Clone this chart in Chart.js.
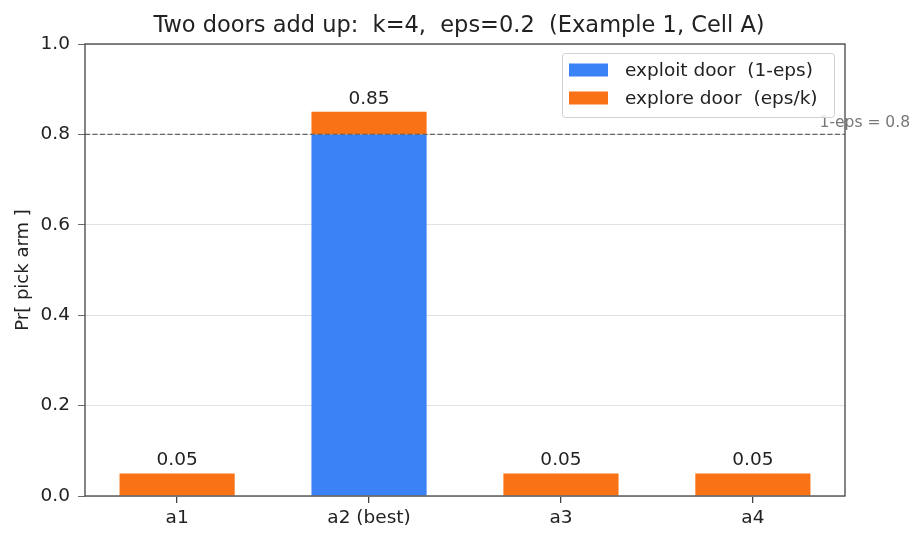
<!DOCTYPE html>
<html>
<head>
<meta charset="utf-8">
<script src="https://cdn.jsdelivr.net/npm/chart.js@4"></script>
<style>
  html, body { margin: 0; padding: 0; background: #fff; }
  #wrap { width: 923px; height: 543px; }
</style>
</head>
<body>
<div id="wrap"><canvas id="chart" width="923" height="543"></canvas></div>
<script>
const arms = ["a1", "a2 (best)", "a3", "a4"];
const exploitDoor = [0, 0.8, 0, 0];
const exploreDoor = [0.05, 0.05, 0.05, 0.05];
const yTicks = [0, 0.2, 0.4, 0.6, 0.8, 1.0];
const threshold = 0.8;

const FONT = "'DejaVu Sans', sans-serif";
const BLUE = "#3b82f6";
const ORANGE = "#f97316";
const TEXT = "#222";

// bars sit on a numeric x axis so the side margins can match
const toPoints = vals => vals.map((v, i) => ({ x: i, y: v }));

// title, y label, frame, dashed line, value labels and the legend box
const extras = {
    id: "extras",
    afterDatasetsDraw(chart) {
        const ctx = chart.ctx;
        const area = chart.chartArea;
        const x = chart.scales.x;
        const y = chart.scales.y;

        ctx.save();
        // title
        ctx.fillStyle = TEXT;
        ctx.font = "22.5px " + FONT;
        ctx.textAlign = "center";
        ctx.textBaseline = "alphabetic";
        ctx.fillText("Two doors add up:  k=4,  eps=0.2  (Example 1, Cell A)", 459, 32);

        // y axis title
        ctx.save();
        ctx.translate(28, (area.top + area.bottom) / 2);
        ctx.rotate(-Math.PI / 2);
        ctx.font = "18px " + FONT;
        ctx.fillText("Pr[ pick arm ]", 0, 0);
        ctx.restore();

        // dashed 1-eps line
        const yl = y.getPixelForValue(threshold);
        ctx.strokeStyle = "#666";
        ctx.lineWidth = 1.4;
        ctx.setLineDash([5, 2.5]);
        ctx.beginPath();
        ctx.moveTo(area.left, yl);
        ctx.lineTo(area.right, yl);
        ctx.stroke();
        ctx.setLineDash([]);

        ctx.fillStyle = "#777";
        ctx.font = "15.5px " + FONT;
        ctx.textAlign = "right";
        ctx.fillText("1-eps = " + threshold, 910, yl - 7);

        // totals above bars
        ctx.fillStyle = TEXT;
        ctx.font = "18.5px " + FONT;
        ctx.textAlign = "center";
        arms.forEach((a, i) => {
            const total = exploitDoor[i] + exploreDoor[i];
            ctx.fillText(total.toFixed(2), x.getPixelForValue(i), y.getPixelForValue(total) - 8);
        });

        // frame
        ctx.strokeStyle = "#444";
        ctx.lineWidth = 1.3;
        ctx.strokeRect(area.left, area.top, area.right - area.left, area.bottom - area.top);

        // legend
        const lx = 562, ly = 53, lw = 272, lh = 64;
        ctx.fillStyle = "rgba(255,255,255,0.85)";
        ctx.strokeStyle = "#d0d0d0";
        ctx.lineWidth = 1;
        ctx.beginPath();
        ctx.roundRect(lx + 0.5, ly + 0.5, lw, lh, 3);
        ctx.fill();
        ctx.stroke();
        ctx.font = "18.5px " + FONT;
        ctx.textAlign = "left";
        ctx.textBaseline = "middle";
        chart.data.datasets.forEach((ds, i) => {
            const cy = ly + 17 + i * 28;
            ctx.fillStyle = ds.backgroundColor;
            ctx.fillRect(lx + 7, cy - 6.5, 39, 13);
            ctx.fillStyle = TEXT;
            ctx.fillText(ds.label, lx + 63, cy + 1);
        });
        ctx.restore();
    }
};

new Chart(document.getElementById("chart").getContext("2d"), {
    type: "bar",
    data: {
        datasets: [
            { label: "exploit door  (1-eps)", data: toPoints(exploitDoor), backgroundColor: BLUE },
            { label: "explore door  (eps/k)", data: toPoints(exploreDoor), backgroundColor: ORANGE }
        ]
    },
    options: {
        responsive: false,
        animation: false,
        categoryPercentage: 1.0,
        barPercentage: 0.6,
        layout: { padding: { left: 0, right: 78, top: 44, bottom: 0 } },
        plugins: {
            legend: { display: false },
            tooltip: { enabled: false },
            title: { display: false }
        },
        scales: {
            x: {
                type: "linear",
                stacked: true,
                offset: false,
                min: -0.48,
                max: arms.length - 1 + 0.48,
                afterFit(scale) { scale.height = 47; },
                afterBuildTicks(axis) { axis.ticks = arms.map((a, i) => ({ value: i })); },
                border: { display: false },
                grid: { offset: false, drawOnChartArea: false, tickColor: "#444", tickLength: 7, lineWidth: 1.3 },
                ticks: {
                    color: TEXT,
                    font: { family: FONT, size: 18.5 },
                    padding: 4,
                    callback: v => arms[v]
                }
            },
            y: {
                stacked: true,
                min: 0,
                max: 1.0,
                afterFit(scale) { scale.width = 85; },
                afterBuildTicks(axis) { axis.ticks = yTicks.map(v => ({ value: v })); },
                border: { display: false },
                grid: {
                    color: "#d9d9d9",
                    lineWidth: 0.8,
                    tickColor: "#444",
                    tickLength: 7
                },
                ticks: {
                    color: TEXT,
                    font: { family: FONT, size: 18.5 },
                    padding: 8,
                    callback: v => Number(v).toFixed(1)
                }
            }
        }
    },
    plugins: [extras]
});
</script>
</body>
</html>
